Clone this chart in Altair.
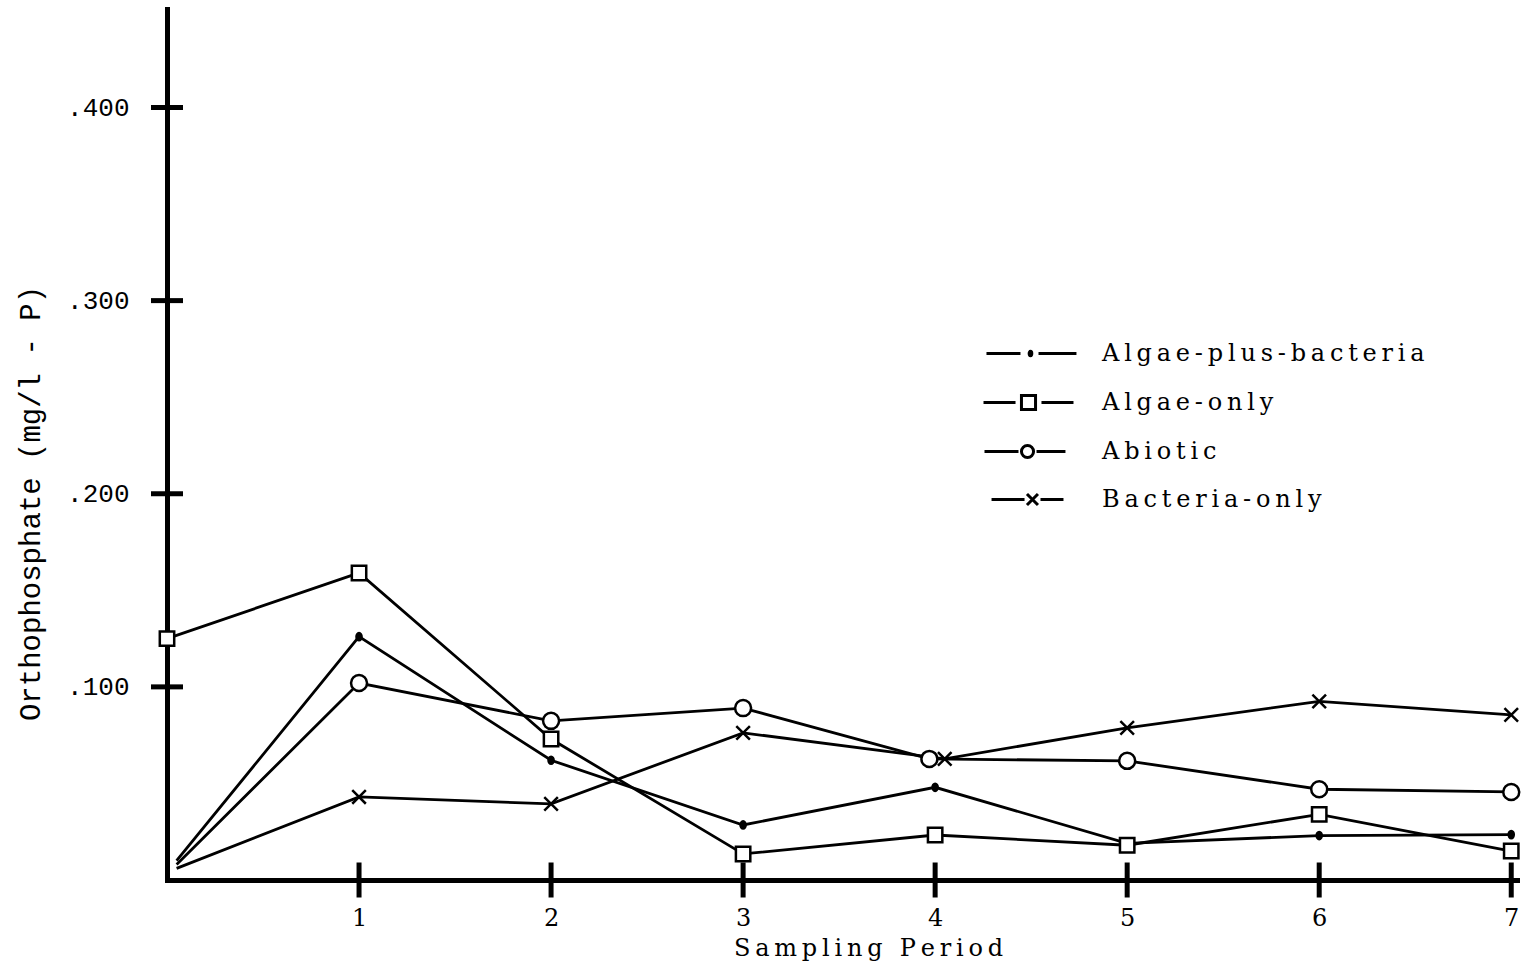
import altair as alt
import pandas as pd

# Orthophosphate concentration (mg/l - P) by sampling period for four culture types
series_names = ["Algae-plus-bacteria", "Algae-only", "Abiotic", "Bacteria-only"]

periods_apb = [0.05, 1, 2, 3, 4, 5, 6, 7]
values_apb = [0.010, 0.126, 0.062, 0.0285, 0.048, 0.019, 0.023, 0.0235]

periods_ao = [0, 1, 2, 3, 4, 5, 6, 7]
values_ao = [0.125, 0.159, 0.073, 0.0135, 0.0233, 0.018, 0.034, 0.015]

periods_ab = [0.05, 1, 2, 3, 3.97, 5, 6, 7]
values_ab = [0.008, 0.102, 0.0824, 0.089, 0.0627, 0.0617, 0.047, 0.0456]

periods_bo = [0.05, 1, 2, 3, 4.05, 5, 6, 7]
values_bo = [0.006, 0.043, 0.0394, 0.0762, 0.0627, 0.0788, 0.0925, 0.0855]

# series whose starting reading is drawn as a bare line end (no symbol)
unmarked_start = ["Algae-plus-bacteria", "Abiotic", "Bacteria-only"]

x_ticks = [1, 2, 3, 4, 5, 6, 7]
y_ticks = [0.1, 0.2, 0.3, 0.4]

rows = []
for name, ps, vs in [
    (series_names[0], periods_apb, values_apb),
    (series_names[1], periods_ao, values_ao),
    (series_names[2], periods_ab, values_ab),
    (series_names[3], periods_bo, values_bo),
]:
    for i, (p, v) in enumerate(zip(ps, vs)):
        rows.append({
            "series": name,
            "period": p,
            "value": v,
            "marked": not (i == 0 and name in unmarked_start),
        })
df = pd.DataFrame(rows)

# symbol outlines for the plotted points (unit = half of sqrt(size))
point_paths = [
    "M-0.32,0A0.32,0.45 0 1,0 0.32,0A0.32,0.45 0 1,0 -0.32,0",
    "M-0.9,-0.9H0.9V0.9H-0.9Z",
    "M-1,0A1,1 0 1,0 1,0A1,1 0 1,0 -1,0",
    "M-0.85,-0.85L0.85,0.85M-0.85,0.85L0.85,-0.85",
]
# legend keys: dash, symbol, dash
legend_paths = [
    "M-3.82,0H-0.73 M0.06,0A0.12,0.2 0 1,0 0.3,0A0.12,0.2 0 1,0 0.06,0 M0.91,0H4.36",
    "M-4.09,0H-1.18 M-0.64,-0.64H0.64V0.64H-0.64Z M1.18,0H4.09",
    "M-4,0H-0.91 M-0.64,0A0.55,0.55 0 1,0 0.46,0A0.55,0.55 0 1,0 -0.64,0 M0.73,0H3.36",
    "M-3.36,0H-0.36 M-0.14,-0.5L0.86,0.5 M-0.14,0.5L0.86,-0.5 M1.09,0H3.18",
]

thin = "\u2009"
x_title = thin.join("Sampling Period")

x_enc = alt.X(
    "period:Q",
    scale=alt.Scale(domain=[0, 7.03], nice=False, zero=False),
    axis=alt.Axis(
        values=x_ticks, ticks=False, tickSize=0, grid=False, format="d",
        labelPadding=26, labelFont="DejaVu Serif", labelFontSize=24,
        labelColor="black", labelFlush=False,
        domainColor="black", domainWidth=5, domainCap="square",
        title=x_title, titleFont="DejaVu Serif", titleFontSize=24,
        titleFontWeight="normal", titleColor="black",
        titleX=701, titleY=75, titleAlign="center", titleBaseline="alphabetic",
    ),
)
y_enc = alt.Y(
    "value:Q",
    scale=alt.Scale(domain=[0, 0.451], nice=False),
    axis=alt.Axis(
        values=y_ticks, ticks=False, tickSize=0, grid=False,
        labelExpr="replace(format(datum.value, '.3f'), '0.', '.')",
        labelPadding=38, labelFont="Liberation Mono", labelFontSize=26,
        labelColor="black",
        domainColor="black", domainWidth=5, domainCap="square",
        title="Orthophosphate (mg/l - P)", titleFont="Liberation Mono",
        titleFontSize=29, titleFontWeight="normal", titleColor="black",
        titleX=-137, titleY=494, titleAlign="center", titleBaseline="middle",
    ),
)

base = alt.Chart(df)

lines = base.mark_line(stroke="black", strokeWidth=2.8).encode(
    x=x_enc, y=y_enc, detail="series:N", order=alt.Order("period:Q")
)

points = base.transform_filter("datum.marked").mark_point(
    filled=True, stroke="black", strokeWidth=2.5, size=256, opacity=1
).encode(
    x=x_enc, y=y_enc,
    shape=alt.Shape("series:N", scale=alt.Scale(domain=series_names, range=point_paths), legend=None),
    fill=alt.Fill("series:N", scale=alt.Scale(domain=series_names, range=["black", "white", "white", "white"]), legend=None),
)

legend_keys = base.transform_filter("false").mark_point(
    filled=False, stroke="black", strokeWidth=3, size=484, opacity=1
).encode(
    x=x_enc, y=y_enc,
    shape=alt.Shape(
        "series:N",
        scale=alt.Scale(domain=series_names, range=legend_paths),
        legend=alt.Legend(
            title=None, orient="none", legendX=849, legendY=332,
            labelFont="DejaVu Serif", labelFontSize=24, labelColor="black",
            labelExpr="join(split(datum.label, ''), '" + thin + "')",
            labelLimit=0, labelOffset=61, rowPadding=23, padding=0,
            symbolSize=484, symbolStrokeWidth=3, symbolStrokeColor="black",
            symbolFillColor="transparent", symbolOpacity=1,
        ),
    ),
)

y_cross = alt.Chart(pd.DataFrame({"value": y_ticks})).mark_tick(
    orient="horizontal", size=32, thickness=5, color="black", opacity=1
).encode(x=alt.datum(0), y=alt.Y("value:Q"))

x_cross = alt.Chart(pd.DataFrame({"period": x_ticks})).mark_tick(
    orient="vertical", size=35, thickness=5, color="black", opacity=1
).encode(x=alt.X("period:Q"), y=alt.datum(0))

chart = alt.layer(lines, points, legend_keys, y_cross, x_cross).resolve_scale(
    shape="independent"
).properties(
    width=1350, height=871,
    autosize="none",
    padding={"left": 167, "top": 9, "right": 14, "bottom": 88},
    background="white",
).configure_view(stroke=None)

chart.save("out.html", embed_options={"renderer": "svg", "actions": False})
